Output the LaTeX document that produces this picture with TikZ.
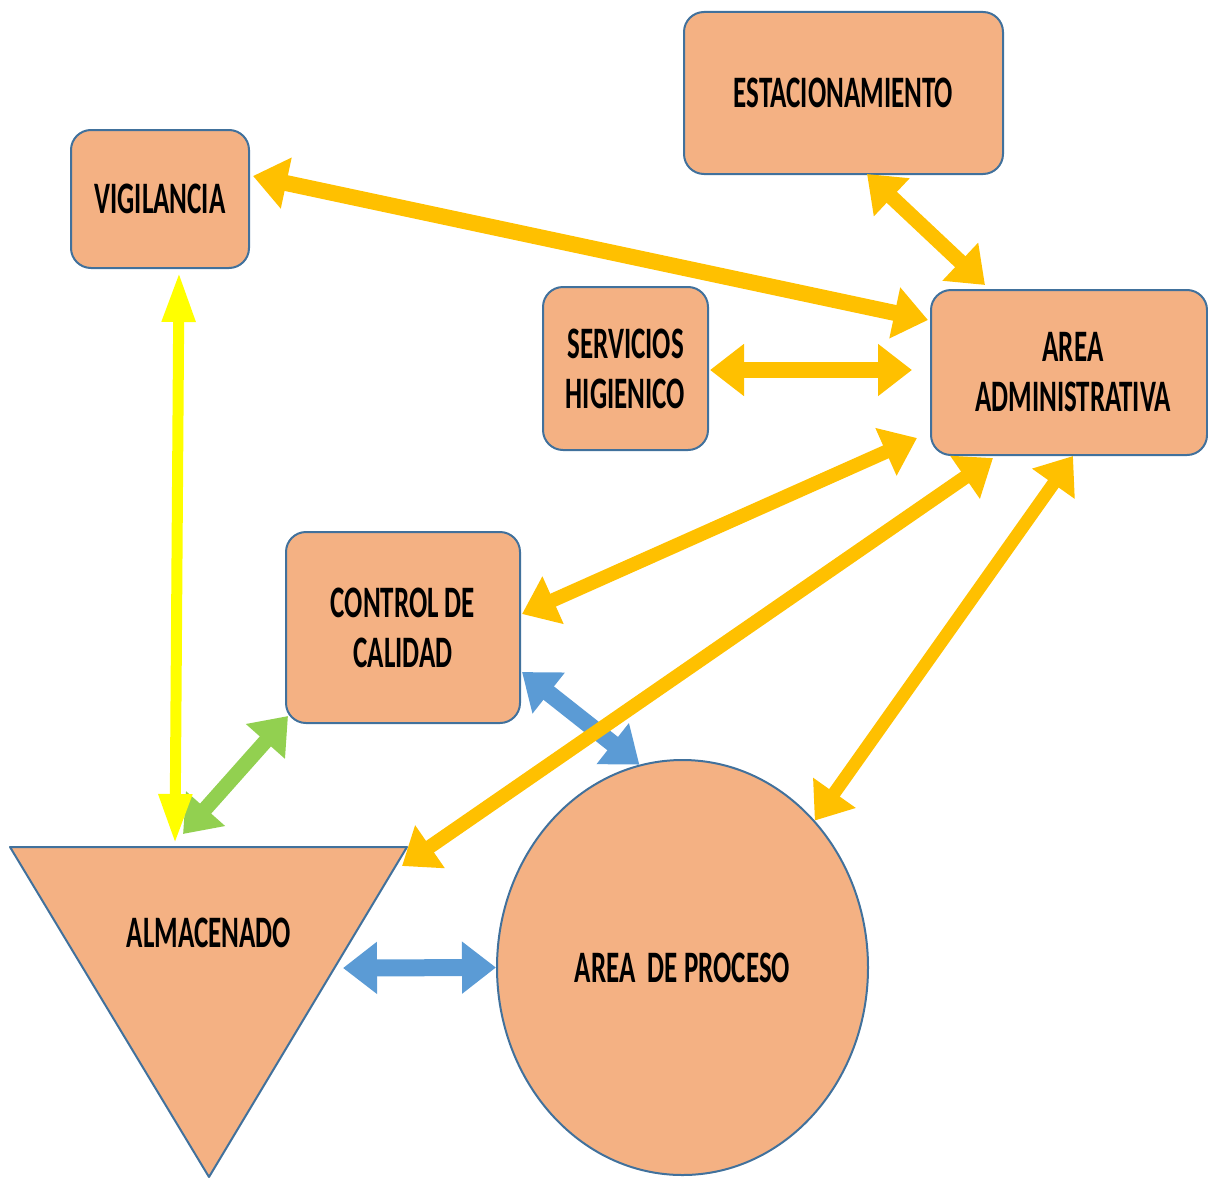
\documentclass[tikz,border=0pt]{standalone}
\usepackage{fontspec}
\newfontfamily\lblfont{Carlito}[FakeStretch=0.6]
\usetikzlibrary{arrows.meta,shapes.geometric,calc}
\definecolor{boxfill}{HTML}{F4B183}
\definecolor{boxline}{HTML}{41719C}
\definecolor{gold}{HTML}{FFC000}
\definecolor{skyblue}{HTML}{5B9BD5}
\definecolor{leaf}{HTML}{92D050}
\definecolor{lemon}{HTML}{FFFF00}
\begin{document}
\begin{tikzpicture}[x=0.5pt,y=-0.5pt,
  lbl/.style={font=\lblfont\bfseries\fontsize{22.5}{25}\selectfont, align=center, text=black},
  box/.style={lbl, draw=boxline, fill=boxfill, line width=1pt, rounded corners=10pt, inner sep=0pt},
  link/.style={line width=#1, >={Triangle[length=17pt,width=25pt]}, <->},
  link/.default=7.5pt,
  thinlink/.style={line width=5.5pt, >={Triangle[length=25pt,width=15.5pt]}, <->}]
\useasboundingbox (0,0) rectangle (1208,1177);

% rooms
\node[box, minimum width=159.5pt, minimum height=81pt] (est) at (843.5,93) {ESTACIONAMIENTO};
\node[box, minimum width=89pt, minimum height=69pt] (vig) at (160,199) {VIGILANCIA};
\node[box, minimum width=82.5pt, minimum height=81.5pt] (ser) at (625.5,368.5) {SERVICIOS\\HIGIENICO};
\node[box, minimum width=138pt, minimum height=82.5pt] (adm) at (1069,372.5) {\hspace*{4pt}AREA\\\hspace*{4pt}ADMINISTRATIVA};
\node[box, minimum width=117pt, minimum height=95.5pt] (ctl) at (403,627.5) {CONTROL DE\\CALIDAD};
\node[lbl, ellipse, draw=boxline, fill=boxfill, line width=1pt, inner sep=0pt,
      minimum width=185.5pt, minimum height=207.5pt] (pro) at (682.5,967.5) {AREA~~DE PROCESO};

% storage: downward triangle
\coordinate (almC) at (209,933);
\draw[draw=boxline, fill=boxfill, line width=1pt, line join=round]
  ($(almC)+(-199,-86)$) -- ($(almC)+(198,-86)$) -- ($(almC)+(0,244)$) -- cycle;
\node[lbl] (alm) at (almC) {ALMACENADO};

% blue links
\draw[link=8.5pt, skyblue] ($(ctl.east)+(1,44.5)$) -- (pro.102);
\draw[link=8.5pt, skyblue] ($(alm)+(134,35)$) -- (pro.west);
% green link
\draw[link=7.5pt, leaf] ($(alm)+(-26,-99)$) -- ($(ctl.south west)+(3,-8)$);
% yellow link
\draw[thinlink, lemon] ($(vig.south)+(19,3)$) -- ($(alm)+(-34,-89)$);
% links to the administration
\draw[link=8pt, gold] ($(vig.east)+(3,-23)$) -- ($(adm.west)+(-2,-52.5)$);
\draw[link=7.5pt, gold] ($(est.south)+(23.5,-1)$) -- ($(adm.north)+(-84,-4)$);
\draw[link=8pt, gold] ($(ser.east)+(1,1.5)$) -- ($(adm.west)+(-18,-2.5)$);
\draw[link=7pt, gold] ($(ctl.east)+(1,-13.5)$) -- ($(adm.west)+(-13,65.5)$);
\draw[link=7pt, gold] ($(alm)+(193,-67)$) -- ($(adm.south)+(-76,2)$);
\draw[link=6.5pt, gold] ($(adm.south)+(4,0)$) -- (pro.48);
\end{tikzpicture}
\end{document}
